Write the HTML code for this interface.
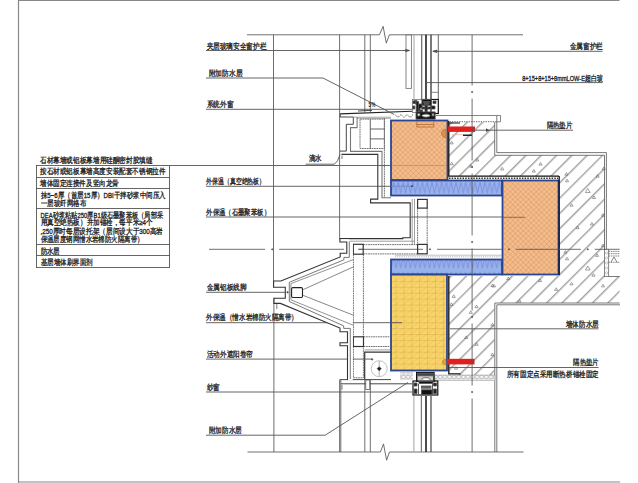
<!DOCTYPE html>
<html><head><meta charset="utf-8"><style>
html,body{margin:0;padding:0;background:#fff;width:638px;height:483px;overflow:hidden}
svg{display:block}
text{font-family:"Liberation Sans",sans-serif;font-size:7.5px;fill:#111;stroke:#222;stroke-width:0.3px}
.ov{position:absolute;left:0;top:0}
</style></head><body>
<svg width="638" height="483" viewBox="0 0 638 483">
<defs>
<pattern id="hatch" patternUnits="userSpaceOnUse" width="10.82" height="10.82" patternTransform="rotate(45)">
<line x1="5.73" y1="0" x2="5.73" y2="10.82" stroke="#555" stroke-width="0.8"/>
</pattern>
<pattern id="orx" patternUnits="userSpaceOnUse" width="3.7" height="3.7" patternTransform="rotate(45)">
<rect width="3.7" height="3.7" fill="#F5BC8C"/>
<path d="M0 0V3.7M0 0H3.7" stroke="#C98452" stroke-width="0.6"/>
</pattern>
<pattern id="blz" patternUnits="userSpaceOnUse" width="4.8" height="15" y="0.5">
<rect width="4.8" height="15" fill="#98B2EE"/>
<path d="M0 1.5L2.4 12.5L4.8 1.5" stroke="#7286D4" stroke-width="0.75" fill="none"/>
</pattern>
<pattern id="yel" patternUnits="userSpaceOnUse" width="7.9" height="5.9" x="0.5" y="3.6">
<rect width="7.9" height="5.9" fill="#F9D46C"/>
<path d="M0 5.9L7.9 0" stroke="#E2BC55" stroke-width="0.6"/>
<path d="M0 0V5.9M0 0H7.9" stroke="#D4A63A" stroke-width="0.8"/>
</pattern>
<pattern id="circ" patternUnits="userSpaceOnUse" width="4.6" height="6" x="1" y="374">
<rect width="4.6" height="6" fill="#e4e4e4"/>
<rect x="0.8" y="1.2" width="3" height="3.4" rx="1.2" fill="#fff" stroke="#888" stroke-width="0.5"/>
</pattern>
</defs>
<g stroke="#888" stroke-width="1.2" fill="none">
<line x1="18" y1="0.5" x2="619.5" y2="0.5"/>
<line x1="18.5" y1="0" x2="18.5" y2="483"/>
<line x1="18" y1="482" x2="620" y2="482"/>
</g>
<path d="M449 122H494.7V155.3H604.5V276.5H619.6V303H494.4V375H449V276H558.5V176H449Z" fill="url(#hatch)" stroke="none"/>
<g stroke="#555" stroke-width="0.8" fill="none">
<path d="M494.7 122V155.3H604.5V249"/>
<path d="M496.8 116V152.6H606.4V249.5"/>
<path d="M619.6 303H494.8V452"/>
<path d="M620 304.8H496.8V452"/>
<path d="M608.7 276.5H619.8"/>
</g>
<g fill="none" stroke="#666" stroke-width="0.6">
<path d="M500.6 169.9L502.2 167.3L503.8 169.9Z"/>
<path d="M538.9 165.1L540.5 162.5L542.1 165.1Z"/>
<path d="M532.2 172.0L533.8 169.4L535.4 172.0Z"/>
<path d="M564.8 175.2L566.4 172.6L568.0 175.2Z"/>
<path d="M565.4 181.8L567.0 179.2L568.6 181.8Z"/>
<path d="M585.4 192.5L587.8 188.5L590.2 192.5Z"/>
<path d="M592.3 198.5L593.9 195.9L595.5 198.5Z"/>
<path d="M596.0 177.2L597.6 174.6L599.2 177.2Z"/>
<path d="M602.1 169.5L603.7 166.9L605.3 169.5Z"/>
<path d="M569.9 206.2L571.5 203.6L573.1 206.2Z"/>
<path d="M576.0 228.6L577.6 226.0L579.2 228.6Z"/>
<path d="M590.3 225.0L591.9 222.4L593.5 225.0Z"/>
<path d="M601.4 216.2L603.0 213.6L604.6 216.2Z"/>
<path d="M563.8 253.1L565.4 250.5L567.0 253.1Z"/>
<path d="M565.4 259.8L567.0 257.2L568.6 259.8Z"/>
<path d="M595.4 256.4L597.0 253.8L598.6 256.4Z"/>
<path d="M585.4 270.0L587.8 266.0L590.2 270.0Z"/>
<path d="M591.9 276.2L593.5 273.6L595.1 276.2Z"/>
<path d="M601.4 246.6L603.0 244.0L604.6 246.6Z"/>
<path d="M506.7 279.6L508.3 277.0L509.9 279.6Z"/>
<path d="M492.4 286.9L494.0 284.3L495.6 286.9Z"/>
<path d="M538.4 281.6L540.0 279.0L541.6 281.6Z"/>
<path d="M569.9 284.9L571.5 282.3L573.1 284.9Z"/>
<path d="M554.6 290.4L556.2 287.8L557.8 290.4Z"/>
<path d="M601.4 286.9L603.0 284.3L604.6 286.9Z"/>
<path d="M517.9 302.2L519.5 299.6L521.1 302.2Z"/>
<path d="M490.8 286.7L492.4 284.1L494.0 286.7Z"/>
<path d="M452.1 297.4L453.7 294.8L455.3 297.4Z"/>
<path d="M449.8 305.4L451.4 302.8L453.0 305.4Z"/>
<path d="M474.9 307.7L476.5 305.1L478.1 307.7Z"/>
<path d="M469.2 313.4L470.8 310.8L472.4 313.4Z"/>
<path d="M490.8 325.9L492.4 323.3L494.0 325.9Z"/>
<path d="M464.6 338.5L466.2 335.9L467.8 338.5Z"/>
<path d="M474.9 345.3L476.5 342.7L478.1 345.3Z"/>
<path d="M490.8 355.6L492.4 353.0L494.0 355.6Z"/>
<path d="M454.4 369.2L456.0 366.6L457.6 369.2Z"/>
<path d="M475.7 161.0L477.3 158.4L478.9 161.0Z"/>
<path d="M469.5 167.2L471.1 164.6L472.7 167.2Z"/>
<path d="M450.1 143.9L451.7 141.3L453.3 143.9Z"/>
<path d="M450.1 164.8L451.7 162.2L453.3 164.8Z"/>
</g>
<rect x="391" y="120.5" width="56.5" height="59.5" fill="url(#orx)" stroke="#2B4590" stroke-width="1.8"/>
<rect x="391" y="180.5" width="111" height="15" fill="url(#blz)" stroke="#2B4590" stroke-width="1.8"/>
<rect x="502.5" y="180.5" width="56" height="94" fill="url(#orx)" stroke="#2B4590" stroke-width="1.8"/>
<rect x="391" y="259.5" width="111" height="15" fill="url(#blz)" stroke="#2B4590" stroke-width="1.8"/>
<rect x="391" y="274.5" width="56" height="96" fill="url(#yel)" stroke="#2B4590" stroke-width="1.8"/>
<g stroke="#111" stroke-width="1.3" fill="none">
<path d="M448.8 121V176.2H559"/>
<path d="M559.2 176V275"/>
<path d="M448.8 276V373.8H460.6"/>
</g>
<g stroke="#333" stroke-width="1.4" fill="none" stroke-dasharray="1.5 1.2">
<path d="M449 178.2H558"/>
</g>
<path d="M449.5 121.7H494" stroke="#888" stroke-width="1.3" fill="none" stroke-dasharray="1.4 1"/>
<path d="M449 123H460" stroke="#111" stroke-width="1"/>
<path d="M395 256.8H502" stroke="#aaa" stroke-width="1" stroke-dasharray="1 1.2"/>
<path d="M395 255.2H502" stroke="#999" stroke-width="0.6"/>
<rect x="448" y="126.5" width="27" height="5.4" fill="#E0201C"/>
<rect x="447.5" y="358.8" width="27" height="5.6" fill="#E0201C"/>
<path d="M446 129A4.5 4.5 0 0 0 446 138Z" fill="#D8924A" stroke="#B06A30" stroke-width="0.6"/>
<path d="M416.8 121.2V127H433.8V121.2M416.8 124.5H433.8" fill="none" stroke="#B8703A" stroke-width="0.9"/>
<path d="M446 359A6 3.2 0 0 0 446 365Z" fill="#E0A040" stroke="#B07020" stroke-width="0.5"/>
<path d="M463 134.5h9v1.5h-9z" fill="#222"/>
<path d="M452 134.6H463" stroke="#e8b0b0" stroke-width="0.8"/>
<path d="M391 186.2H412" stroke="#6a7fc0" stroke-width="0.7"/>
<path d="M392 165.5H446" stroke="#C8885A" stroke-width="0.7"/>
<circle cx="412" cy="186.2" r="0.9" fill="#334"/>
<path d="M486 128.3L489.5 130.2L486 132.1Z" fill="#444"/>
<rect x="435" y="375" width="60" height="5.5" fill="url(#circ)" stroke="#888" stroke-width="0.4"/>
<rect x="400" y="372" width="13" height="8" fill="url(#circ)" stroke="none"/>
<g stroke="#555" stroke-width="0.85" fill="none">
<path d="M247 34.8H379.4L383.1 26.3L386.3 43.1L389.4 34.8H523"/>
<path d="M247.5 452H380.4L383.5 443.9L386.6 460.2L389.5 452H523.5"/>
<path d="M273.5 34.8V287.2M273.9 297.8V452"/>
<path d="M339.6 34.8V238.6M339.6 380V452M340.8 380V452"/>
<path d="M364.8 34.8V112.5M370.3 34.8V112.3"/>
<path d="M364.8 380V452M370.3 380V452"/>
<path d="M472.1 34.8V85.5M472.1 98.5V160.5M472.1 173.5V235.5M472.1 248.5V310.5M472.1 323.5V385.5M472.1 398.5V452.0M209.0 249.3H265.2M279.2 249.3H344.1M358.1 249.3H423.0M437.0 249.3H501.9M515.9 249.3H580.8M594.8 249.3H619.6" stroke="#555" stroke-width="0.85" fill="none"/>
<g fill="#555"><circle cx="472.1" cy="92.0" r="0.6"/><circle cx="472.1" cy="167.0" r="0.6"/><circle cx="472.1" cy="242.0" r="0.6"/><circle cx="472.1" cy="317.0" r="0.6"/><circle cx="472.1" cy="392.0" r="0.6"/><circle cx="272.2" cy="249.3" r="0.6"/><circle cx="430.0" cy="249.3" r="0.6"/><circle cx="508.9" cy="249.3" r="0.6"/><circle cx="587.8" cy="249.3" r="0.6"/></g>
<path d="M409.6 50.5L405.5 49.3V51.7Z M432.8 51.3L436.9 50.1V52.5Z" fill="#333"/>
<g fill="none">
<rect x="406" y="34.8" width="5.4" height="53.6" stroke="#777" stroke-width="0.9"/>
<path d="M414 34.8V99" stroke="#999" stroke-width="0.9"/>
<path d="M421.7 34.8V99.5" stroke="#666" stroke-width="1.2"/>
<path d="M426 34.8V99.5" stroke="#111" stroke-width="1.5"/>
<path d="M431 34.8V99.5" stroke="#333" stroke-width="1.3"/>
<path d="M438.3 34.8V99.5" stroke="#555" stroke-width="0.9"/>
<path d="M431 92.3H438.3" stroke="#666" stroke-width="0.8"/>
<path d="M413.9 396V452" stroke="#999" stroke-width="0.9"/>
<path d="M421.4 396V452" stroke="#777" stroke-width="1.2"/>
<path d="M426 396V452" stroke="#111" stroke-width="1.5"/>
<path d="M431 396V452" stroke="#444" stroke-width="1.2"/>
</g>
<g>
<rect x="412.5" y="99.5" width="9.5" height="13" fill="#fff" stroke="#777" stroke-width="0.8"/>
<rect x="431" y="99.5" width="7.3" height="14" fill="#fff" stroke="#111" stroke-width="1.2"/>
<rect x="422" y="99.3" width="9.2" height="6" fill="#111"/>
<rect x="423.5" y="101.5" width="6" height="1" fill="#666"/>
<rect x="424" y="103.5" width="5" height="0.8" fill="#777"/>
<path d="M418 104h4v4h-2v3h-2z" fill="#111"/>
<path d="M431 106h4v3h-4z" fill="#111"/>
<path d="M433 101h3v2.5h-3z" fill="#222"/>
<path d="M414 100.5l3 0 1 3-2 1z" fill="#333"/>
<path d="M422 107h9v2h-9z" fill="#222"/>
<path d="M416.2 101.5h2.4v10.5h-2.4zM413 101h2.5v2.5h-2.5zM412.8 106h2v3h-2zM425 105h2.2v7h-2.2zM419.5 110h3v2h-3z" fill="#1a1a1a"/>
<path d="M416 111.9h19.2v7.3h-19.2z" fill="#111"/>
<ellipse cx="426" cy="115.6" rx="4" ry="1.6" fill="#fff"/>
<rect x="417.5" y="113.5" width="2.5" height="2.5" fill="#fff"/>
<rect x="432" y="113.5" width="2" height="2.5" fill="#ddd"/>
</g>
<g>
<rect x="413" y="381" width="24.8" height="14" fill="#fff" stroke="#111" stroke-width="1.2"/>
<rect x="416.7" y="372.6" width="17.3" height="8.6" fill="#ccc" stroke="#111" stroke-width="1.4"/>
<rect x="417.5" y="373.2" width="15.7" height="2.6" fill="#444"/>
<ellipse cx="426" cy="379.2" rx="4.3" ry="1.5" fill="#fff" stroke="#222" stroke-width="0.6"/>
<rect x="419" y="381.4" width="14" height="2" fill="#111"/>
<rect x="421.5" y="386" width="9.5" height="2.2" fill="#666"/>
<rect x="421.5" y="389.8" width="10.5" height="4.8" fill="#111"/>
<path d="M414 383h3v3h-3zM414 389h3v4.5h-3zM433.5 383h3v3h-3zM433.5 389h3v4.5h-3z" fill="#222"/>
<path d="M418.5 384V394M432.5 384V394" stroke="#333" stroke-width="0.8"/>
</g>
<g fill="none" stroke="#333" stroke-width="0.9">
<path d="M340.2 113.9L412 111.3" stroke="#222" stroke-width="1.1"/>
<path d="M358 111L372 110.3"/>
<path d="M340.2 113.9V117H353.3V124.3H346.3V151.1H340"/>
<path d="M357.1 117V127.6H350.5V151.4H382V197.7H391" stroke="#777" stroke-width="1.1"/>
<path d="M353 117.2H391M357.1 118.3H391" stroke="#888" stroke-width="0.7"/>
<path d="M341.5 154.4H377.8V199.1H370.6V202.9H410.2V237.7H402.8V238.6H339.6" stroke="#333" stroke-width="1.1"/>
<path d="M412.2 199V244.4M414.5 199V244.4M349.6 241.2H414.5" stroke="#777" stroke-width="0.7"/>
</g>
<g fill="none" stroke="#666" stroke-width="0.9" stroke-dasharray="1.8 0.6">
<path d="M384.4 118V197.5"/>
<rect x="360" y="119.1" width="24.4" height="29.4"/>

<path d="M417.6 208V244.4M427.2 208V244.4"/>
<path d="M363.2 244.6H417.6M363.2 253.9H417.6"/>
<path d="M353.4 254.2V336.8M363.4 254.2V336.8M353.4 346.5V377.8H363.4V346.5"/>
<path d="M363.6 336.8H391M363.6 346.5H391"/>
<path d="M395 114.5L398 117.5L401 114.5L404 117.5L407 114.5L410 117.5L413 114.5"/>
</g>
<path d="M370.3 119.1V148.5M370.3 129H384.4M370.3 138.9H384.4" stroke="#555" stroke-width="0.9" fill="none"/>
<g fill="none" stroke="#333" stroke-width="1.2">
<rect x="417.6" y="199.4" width="9.6" height="8.7"/>
<rect x="417.6" y="244.4" width="9.6" height="9.4"/>
<rect x="353.3" y="244.3" width="9.9" height="9.9"/>
<rect x="353.3" y="336.8" width="10.2" height="9.7"/>
</g>
<path d="M342 155.5v3.5" stroke="#444" stroke-width="0.7"/>
<g fill="none" stroke="#333" stroke-width="1">
<path d="M364.7 379.2V352.2H391" stroke-width="1.2"/>
<path d="M364.7 349.9H391" stroke="#777" stroke-width="0.7"/>
<path d="M339.6 379.6H391M340.8 383.8H412" stroke-width="0.9"/>
</g>
<circle cx="379.2" cy="368.7" r="8" fill="none" stroke="#999" stroke-width="0.6"/>
<path d="M379.2 361V376" stroke="#777" stroke-width="0.6"/>
<path d="M379.2 366.7L381.2 368.7L379.2 370.7L377.2 368.7Z" fill="#111"/>
<circle cx="372.1" cy="359.4" r="0.7" fill="#333"/>
<path d="M365.7 380h4v9.5h-4z" fill="#fff" stroke="#444" stroke-width="0.7"/>
<path d="M342 385v4.5" stroke="#444" stroke-width="0.7"/>
<g fill="none" stroke="#555" stroke-width="0.7">
<rect x="604.6" y="249.5" width="4.1" height="27" fill="#fff"/>
<path d="M608.7 251.4H620M608.7 253.7H620M608.7 256H620M608.7 262.3H620" stroke-dasharray="1.5 0.7"/>
<path d="M611 262.3L614 257L617 262.3"/>
</g>
<g fill="none" stroke="#999" stroke-width="0.5">
<circle cx="606.6" cy="253" r="1.2"/><circle cx="606.6" cy="258" r="1.2"/><circle cx="606.6" cy="263" r="1.2"/><circle cx="606.6" cy="268" r="1.2"/><circle cx="606.6" cy="273" r="1.2"/>
</g>
<path d="M436 115.5H500.5V121.8H494.7" fill="none" stroke="#666" stroke-width="0.8"/>
<!-- left table -->
<g stroke="#555" stroke-width="0.9" fill="none">
<line x1="36" y1="165.5" x2="391" y2="165.5"/>
<line x1="36.5" y1="165" x2="36.5" y2="268"/>
<line x1="169.5" y1="165" x2="169.5" y2="268"/>
<line x1="36" y1="177.5" x2="169.5" y2="177.5"/>
<line x1="36" y1="188.5" x2="169.5" y2="188.5"/>
<line x1="36" y1="208.5" x2="169.5" y2="208.5"/>
<line x1="36" y1="244.5" x2="169.5" y2="244.5"/>
<line x1="36" y1="255.5" x2="169.5" y2="255.5"/>
<line x1="36" y1="267.5" x2="169.5" y2="267.5"/>
</g>

<!-- leaders -->
<g stroke="#555" stroke-width="0.9" fill="none">
<line x1="206" y1="50.5" x2="409" y2="50.5"/>
<path d="M206 78H323L394 114.4"/>
<line x1="206" y1="109.3" x2="412" y2="109.3"/>
<line x1="206" y1="186.3" x2="391" y2="186.3"/>
<line x1="206" y1="217" x2="502" y2="217"/>
<line x1="503" y1="217.3" x2="525" y2="217.3" stroke="#7a4a2a" stroke-width="0.7"/>
<line x1="206" y1="292.3" x2="288" y2="292.3"/>
<line x1="206" y1="322.7" x2="402" y2="322.7"/>
<line x1="206" y1="359.1" x2="372" y2="359.1"/>
<line x1="206" y1="392" x2="412" y2="392"/>
<path d="M206 435.2H325.2L408 382.5"/>
<path d="M305.6 164.2H334.4Q338 162 340 154.4"/>
<line x1="433" y1="51.3" x2="602.5" y2="51.3"/>
<line x1="426" y1="82.6" x2="602.5" y2="82.6"/>
<line x1="474" y1="130.2" x2="573" y2="130.2"/>
<line x1="450" y1="328.8" x2="598.5" y2="328.8"/>
<line x1="449" y1="367.5" x2="598.5" y2="367.5"/>
</g>

<path d="M340.4 239.3V242H346.8V253.3H340.2V257L280.9 281H273.6V287.3H285.3V298.2H274V303.4H280.4L340 328V331.7H347.5V342.8H340V345.7H347.5V380H352.8V242H349V239.3Z" fill="#fff" stroke="none"/>
<g fill="none" stroke="#333" stroke-width="1.1">
<path d="M339.9 238.3V242H346.8V253.3H340.2V257L280.9 281H273.6V287.3H285.3V298.2H274V303.4H280.4L340 328V331.7H347.5V342.8H340V345.7H347.5V380"/>
</g>
<g fill="none" stroke="#555" stroke-width="0.8">
<path d="M349.3 241.5V257.4H343.9V259.8L289.3 282.3V301.5L343.7 325.9V328.4H350.3V379"/>
<path d="M353.3 259.6L290.9 283.6V299.8L353.3 325.3" stroke="#777"/>
<path d="M303.2 289.6L353.3 266.9" stroke="#888" stroke-width="1"/>
<path d="M303.2 295.4L353.3 315.2" stroke="#888" stroke-width="1"/>
<path d="M359 249.3H363.4" stroke="#555"/>
</g>
<rect x="291.6" y="287.6" width="10.9" height="9.9" rx="1.2" fill="#fff" stroke="#222" stroke-width="1.1"/>
<circle cx="287.6" cy="292.2" r="0.7" fill="#222"/>
<path d="M276.8 304v5" stroke="#444" stroke-width="0.7"/>
</svg>
<svg class="ov" width="638" height="483" viewBox="0 0 638 483">
<g>
<text x="40" y="162.7" textLength="112.4" lengthAdjust="spacingAndGlyphs">石材幕墙或铝板幕墙用硅酮密封胶填缝</text>
<text x="40" y="174.4" textLength="125.4" lengthAdjust="spacingAndGlyphs">按石材或铝板幕墙高度安装配套不锈钢拉件</text>
<text x="40" y="186.4" textLength="78.9" lengthAdjust="spacingAndGlyphs">墙体固定连接件及竖向龙骨</text>
<text x="40.7" y="197.8" textLength="125.3" lengthAdjust="spacingAndGlyphs">抹5~6厚（首层15厚）DBI干拌砂浆中间压入</text>
<text x="40.7" y="206.3" textLength="45.3" lengthAdjust="spacingAndGlyphs">一层玻纤网格布</text>
<text x="40.5" y="217.5" textLength="122.6" lengthAdjust="spacingAndGlyphs">DEA砂浆粘贴250厚B1级石墨聚苯板（局部采</text>
<text x="40.5" y="224.6" textLength="112.1" lengthAdjust="spacingAndGlyphs">用真空绝热板）并加锚栓，每平米≥4个</text>
<text x="40.5" y="234.0" textLength="122.6" lengthAdjust="spacingAndGlyphs">,250厚时每层设托架（层间设大于300高岩</text>
<text x="40.5" y="241.9" textLength="103.1" lengthAdjust="spacingAndGlyphs">保温层度钢网憎水岩棉防火隔离带）</text>
<text x="40.5" y="253.8" textLength="19.4" lengthAdjust="spacingAndGlyphs">防水层</text>
<text x="40.5" y="265.4" textLength="52.3" lengthAdjust="spacingAndGlyphs">基层墙体刷界面剂</text>
<text x="206.5" y="48.6" textLength="59.9" lengthAdjust="spacingAndGlyphs">夹层玻璃安全窗护栏</text>
<text x="208.5" y="75.9" textLength="33.9" lengthAdjust="spacingAndGlyphs">附加防水层</text>
<text x="206.5" y="106.8" textLength="26.9" lengthAdjust="spacingAndGlyphs">系统外窗</text>
<text x="206.3" y="184.3" textLength="58.8" lengthAdjust="spacingAndGlyphs">外保温（真空绝热板）</text>
<text x="206.3" y="214.9" textLength="63.6" lengthAdjust="spacingAndGlyphs">外保温（石墨聚苯板）</text>
<text x="206.7" y="290.1" textLength="39.7" lengthAdjust="spacingAndGlyphs">金属铝板线脚</text>
<text x="206.3" y="320.2" textLength="91.6" lengthAdjust="spacingAndGlyphs">外保温（憎水岩棉防火隔离带）</text>
<text x="206.9" y="357.2" textLength="46.2" lengthAdjust="spacingAndGlyphs">活动外遮阳卷帘</text>
<text x="206.9" y="390.0" textLength="13.1" lengthAdjust="spacingAndGlyphs">纱窗</text>
<text x="208.8" y="433.2" textLength="33.2" lengthAdjust="spacingAndGlyphs">附加防水层</text>
<text x="308.8" y="160.7" textLength="12.9" lengthAdjust="spacingAndGlyphs">滴水</text>
<text x="569.6" y="49.1" textLength="33.3" lengthAdjust="spacingAndGlyphs">金属窗护栏</text>
<text x="522.2" y="80.6" textLength="80.7" lengthAdjust="spacingAndGlyphs">8+15+8+15+8mmLOW-E超白玻</text>
<text x="546.6" y="127.9" textLength="25.8" lengthAdjust="spacingAndGlyphs">隔热垫片</text>
<text x="565.8" y="326.7" textLength="33.0" lengthAdjust="spacingAndGlyphs">墙体防水层</text>
<text x="573.2" y="364.6" textLength="25.6" lengthAdjust="spacingAndGlyphs">隔热垫片</text>
<text x="506.9" y="376.9" textLength="91.9" lengthAdjust="spacingAndGlyphs">所有固定点采用断热桥锚栓固定</text>
</g>
<text x="368.6" y="107.3" style="font-size:7px;stroke-width:0.15px" textLength="6.6" lengthAdjust="spacingAndGlyphs">5%</text>
</svg>
</body></html>
